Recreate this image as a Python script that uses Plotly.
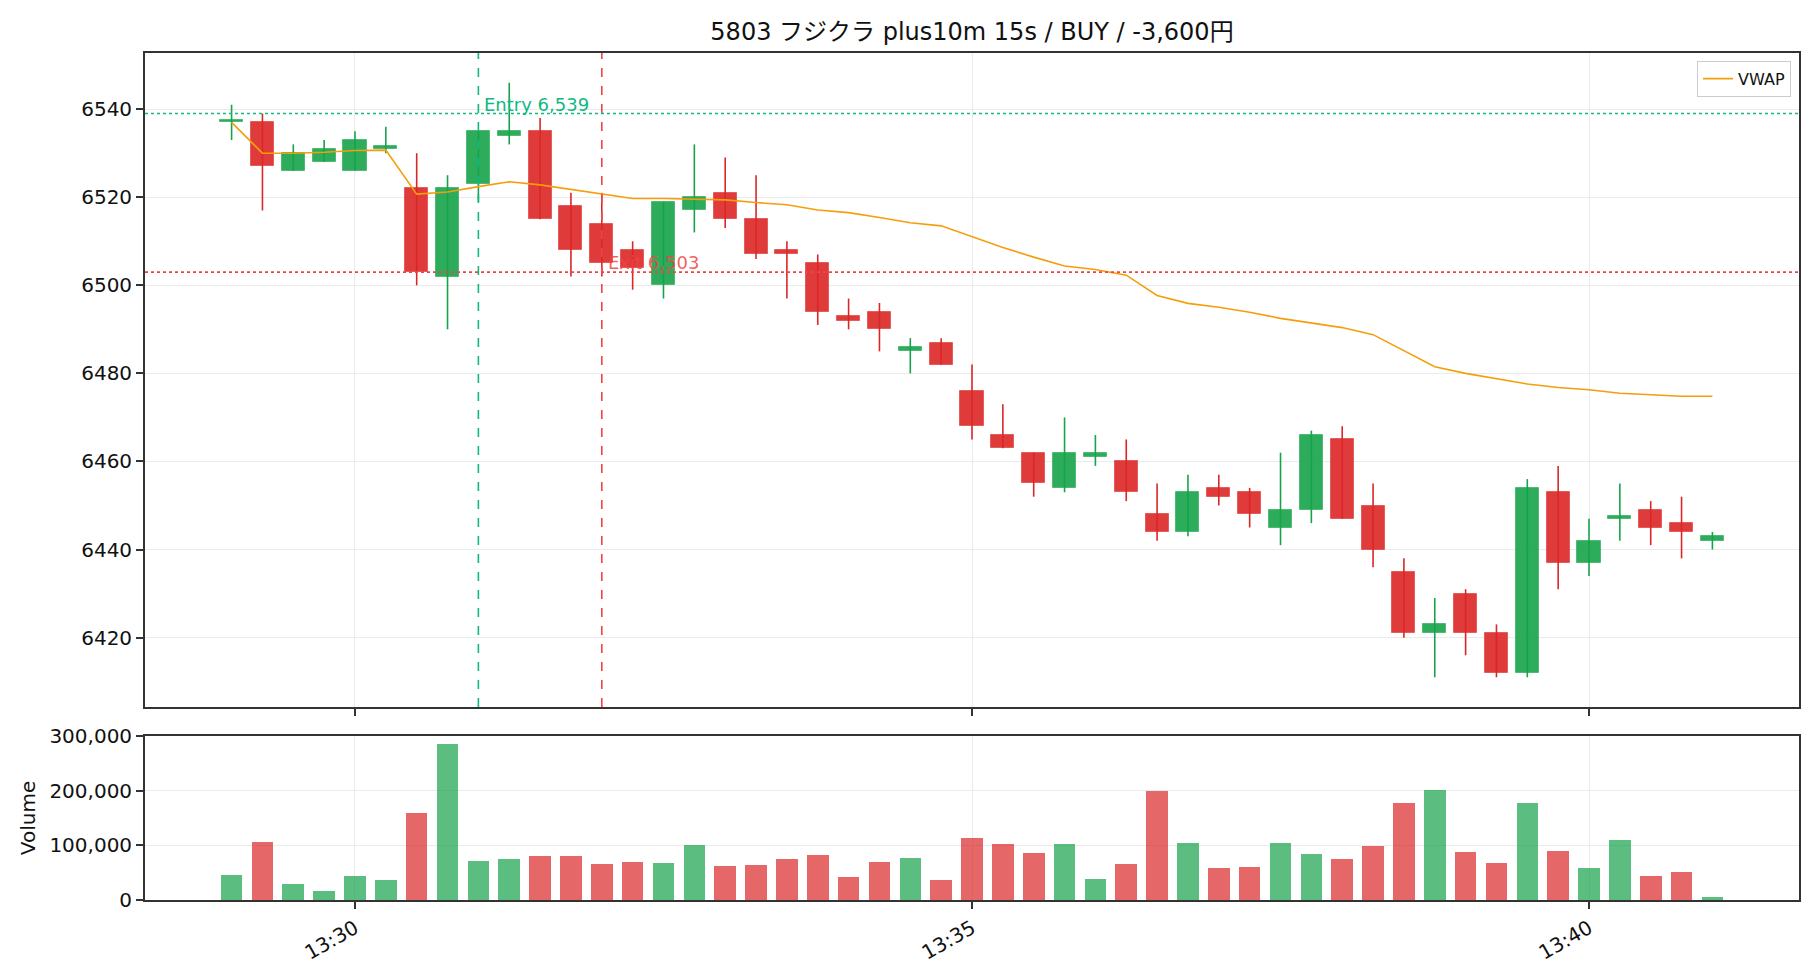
import plotly.graph_objects as go
from plotly.subplots import make_subplots

# ---------------- data ----------------
title_text = "5803 フジクラ plus10m 15s / BUY / -3,600円"
day = "2025-01-01"
times = [
    "13:29:00", "13:29:15", "13:29:30", "13:29:45",
    "13:30:00", "13:30:15", "13:30:30", "13:30:45",
    "13:31:00", "13:31:15", "13:31:30", "13:31:45",
    "13:32:00", "13:32:15", "13:32:30", "13:32:45",
    "13:33:00", "13:33:15", "13:33:30", "13:33:45",
    "13:34:00", "13:34:15", "13:34:30", "13:34:45",
    "13:35:00", "13:35:15", "13:35:30", "13:35:45",
    "13:36:00", "13:36:15", "13:36:30", "13:36:45",
    "13:37:00", "13:37:15", "13:37:30", "13:37:45",
    "13:38:00", "13:38:15", "13:38:30", "13:38:45",
    "13:39:00", "13:39:15", "13:39:30", "13:39:45",
    "13:40:00", "13:40:15", "13:40:30", "13:40:45",
    "13:41:00",
]
opens = [6537, 6537, 6526, 6528, 6526, 6531, 6522, 6502, 6523, 6534, 6535, 6518,
         6514, 6508, 6500, 6517, 6521, 6515, 6508, 6505, 6493, 6494, 6485, 6487,
         6476, 6466, 6462, 6454, 6461, 6460, 6448, 6444, 6454, 6453, 6445, 6449,
         6465, 6450, 6435, 6421, 6430, 6421, 6412, 6453, 6437, 6447, 6449, 6446,
         6442]
highs = [6541, 6539, 6532, 6533, 6535, 6536, 6530, 6525, 6535, 6546, 6538, 6521,
         6521, 6510, 6519, 6532, 6529, 6525, 6510, 6507, 6497, 6496, 6488, 6488,
         6482, 6473, 6462, 6470, 6466, 6465, 6455, 6457, 6457, 6454, 6462, 6467,
         6468, 6455, 6438, 6429, 6431, 6423, 6456, 6459, 6447, 6455, 6451, 6452,
         6444]
lows = [6533, 6517, 6526, 6528, 6526, 6530, 6500, 6490, 6519, 6532, 6515, 6502,
        6502, 6499, 6497, 6512, 6513, 6506, 6497, 6491, 6490, 6485, 6480, 6482,
        6465, 6463, 6452, 6453, 6459, 6451, 6442, 6443, 6450, 6445, 6441, 6446,
        6447, 6436, 6420, 6411, 6416, 6411, 6411, 6431, 6434, 6442, 6441, 6438,
        6440]
closes = [6537, 6527, 6530, 6531, 6533, 6531, 6503, 6522, 6535, 6535, 6515, 6508,
          6505, 6504, 6519, 6520, 6515, 6507, 6507, 6494, 6492, 6490, 6486, 6482,
          6468, 6463, 6455, 6462, 6462, 6453, 6444, 6453, 6452, 6448, 6449, 6466,
          6447, 6440, 6421, 6423, 6421, 6412, 6454, 6437, 6442, 6447, 6445, 6444,
          6443]
volumes = [45700, 106100, 29300, 16500, 43900, 36600, 159100, 286000, 71300, 75000,
           80500, 80500, 65900, 69500, 67700, 100000, 62200, 64000, 75000, 82300,
           42100, 69500, 76800, 36600, 113400, 102400, 86000, 102400, 38400, 65900,
           199400, 104300, 58500, 60400, 104300, 84100, 75000, 98800, 177400, 201200,
           87800, 67700, 177400, 89600, 58500, 109800, 43900, 51200, 5500]
vwap = [6537.0, 6530.0, 6530.0, 6530.2, 6530.6, 6530.7, 6520.7, 6521.2, 6522.4, 6523.5,
        6522.8, 6521.8, 6520.7, 6519.7, 6519.7, 6519.6, 6519.4, 6518.8, 6518.3, 6517.1,
        6516.5, 6515.4, 6514.2, 6513.5, 6511.0, 6508.6, 6506.4, 6504.4, 6503.6, 6502.3,
        6497.7, 6495.9, 6495.0, 6493.9, 6492.5, 6491.5, 6490.4, 6488.8, 6485.1, 6481.5,
        6480.0, 6478.8, 6477.6, 6476.8, 6476.3, 6475.5, 6475.2, 6474.8, 6474.8]
entry_time, entry_price = "13:31:00", 6539
exit_time, exit_price = "13:32:00", 6503
x_ticks = ["13:30:00", "13:35:00", "13:40:00"]
x_tick_labels = ["13:30", "13:35", "13:40"]
x_range = ["13:28:17.9", "13:41:42.1"]

# ---------------- styles ----------------
GREEN = (22, 163, 74)
RED = (220, 38, 38)
ENTRY_C = "#10b981"
EXIT_C = "#ef4444"
VWAP_C = "#f59e0b"
FONT = "DejaVu Sans, Noto Sans CJK JP, sans-serif"
GRID = "#ebebeb"
AXC = "#333333"
TXT = "#111111"


def rgba(c, a):
    return f"rgba({c[0]},{c[1]},{c[2]},{a})"


xs = [f"{day} {t}" for t in times]
up = [c >= o for o, c in zip(opens, closes)]

fig = make_subplots(rows=2, cols=1, shared_xaxes=True)

# wicks
for flag, col in ((True, GREEN), (False, RED)):
    wx, wy = [], []
    for x, h, l, u in zip(xs, highs, lows, up):
        if u == flag:
            wx += [x, x, None]
            wy += [l, h, None]
    fig.add_trace(go.Scatter(x=wx, y=wy, mode="lines", showlegend=False,
                             hoverinfo="skip",
                             line=dict(color=rgba(col, 1), width=1.6)),
                  row=1, col=1)

# bodies
span = max(highs) - min(lows)
base = [min(o, c) for o, c in zip(opens, closes)]
height = [max(abs(c - o), span * 0.004) for o, c in zip(opens, closes)]
fig.add_trace(go.Bar(
    x=xs, y=height, base=base, width=11200, showlegend=False,
    marker=dict(color=[rgba(GREEN if u else RED, 0.9) for u in up],
                line=dict(color=[rgba(GREEN if u else RED, 0.55) for u in up], width=1)),
), row=1, col=1)

# VWAP
fig.add_trace(go.Scatter(x=xs, y=vwap, mode="lines", name="VWAP",
                         line=dict(color=VWAP_C, width=1.6)), row=1, col=1)

# volume
fig.add_trace(go.Bar(
    x=xs, y=volumes, width=10500, showlegend=False,
    marker=dict(color=[rgba(GREEN if u else RED, 0.7) for u in up], line=dict(width=0)),
), row=2, col=1)

# entry / exit markers
ex = f"{day} {entry_time}"
xx = f"{day} {exit_time}"
fig.add_shape(type="line", xref="x", yref="y domain", x0=ex, x1=ex, y0=0, y1=1,
              line=dict(color=ENTRY_C, width=1.6, dash="dash"))
fig.add_shape(type="line", xref="x", yref="y domain", x0=xx, x1=xx, y0=0, y1=1,
              line=dict(color=EXIT_C, width=1.6, dash="dash"))
fig.add_shape(type="line", xref="x domain", yref="y", x0=0, x1=1, y0=entry_price, y1=entry_price,
              line=dict(color=ENTRY_C, width=1.6, dash="dot"))
fig.add_shape(type="line", xref="x domain", yref="y", x0=0, x1=1, y0=exit_price, y1=exit_price,
              line=dict(color=EXIT_C, width=1.6, dash="dot"))
fig.add_annotation(x=ex, y=entry_price, xref="x", yref="y", text=f"Entry {entry_price:,}",
                   showarrow=False, xanchor="left", yanchor="bottom", xshift=4, yshift=-3,
                   font=dict(color=ENTRY_C, size=18, family=FONT))
fig.add_annotation(x=xx, y=exit_price, xref="x", yref="y", text=f"Exit {exit_price:,}",
                   showarrow=False, xanchor="left", yanchor="bottom", xshift=4, yshift=-3,
                   font=dict(color="rgba(239,68,68,0.85)", size=18, family=FONT))

lo, hi = min(lows), max(highs)
pad = (hi - lo) * 0.05
vmax = max(volumes) * 1.05

axis_common = dict(showline=True, linecolor=AXC, linewidth=1.8, mirror=True,
                   gridcolor=GRID, gridwidth=1, zeroline=False,
                   ticks="outside", ticklen=7, tickwidth=1.6, tickcolor=AXC,
                   tickfont=dict(size=20, family=FONT, color=TXT))

fig.update_layout(
    width=1820, height=980,
    margin=dict(l=145, r=21, t=53, b=80),
    paper_bgcolor="white", plot_bgcolor="white",
    barmode="overlay", bargap=0,
    font=dict(family=FONT, color=TXT),
    title=dict(text=title_text, x=(145 + 1799) / 2 / 1820, xanchor="center",
               y=1 - 32 / 980, yanchor="middle",
               font=dict(size=24, family=FONT, color=TXT)),
    legend=dict(x=0.9952, y=0.9909, xanchor="right", yanchor="top",
                bgcolor="rgba(255,255,255,0.9)", bordercolor="#cccccc", borderwidth=1,
                font=dict(size=16, family=FONT, color=TXT)),
    showlegend=True,
)
xr = [f"{day} {t}" for t in x_range]
tv = [f"{day} {t}" for t in x_ticks]
fig.update_xaxes(**axis_common, type="date", range=xr, tickvals=tv, ticktext=x_tick_labels)
fig.update_xaxes(showticklabels=False, domain=[0, 1], row=1, col=1)
fig.update_xaxes(showticklabels=True, tickangle=-30, domain=[0, 1], row=2, col=1)
fig.update_yaxes(**axis_common)
fig.update_yaxes(range=[lo - pad, hi + pad], dtick=20, tickformat="d",
                 domain=[(900 - 707) / 847, 1], row=1, col=1)
fig.update_yaxes(range=[0, vmax], dtick=100000, tickformat=",d",
                 domain=[0, (900 - 736) / 847],
                 title=dict(text="Volume", font=dict(size=20, family=FONT, color=TXT), standoff=8),
                 row=2, col=1)

fig.write_html("out.html")
